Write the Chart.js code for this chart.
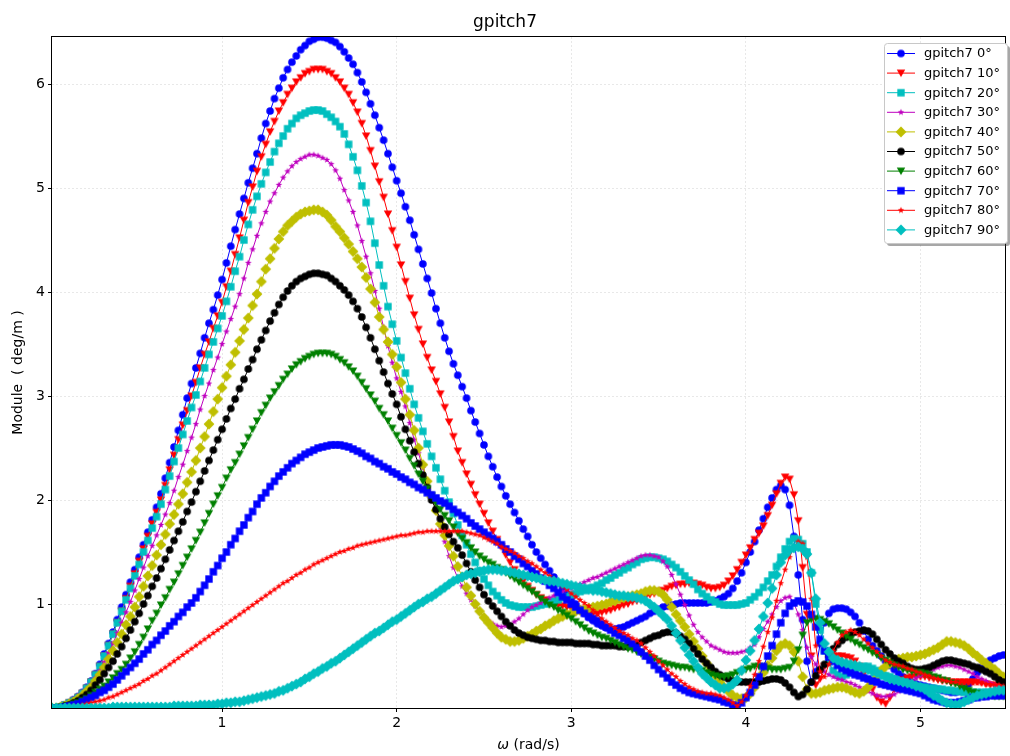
<!DOCTYPE html>
<html>
<head>
<meta charset="utf-8">
<title>gpitch7</title>
<script src="https://cdn.jsdelivr.net/npm/chart.js@4.4.1/dist/chart.umd.min.js"></script>
<style>
  html, body { margin: 0; padding: 0; background: #fff; }
  #wrap { width: 1010px; height: 756px; position: relative; }
</style>
</head>
<body>
<div id="wrap"><canvas id="gpitchChart" width="1010" height="756"></canvas></div>
<script>
// omega (rad/s), one row per 0.5 rad/s
const omega = [
  0.025, 0.050, 0.075, 0.100, 0.125, 0.150, 0.175, 0.200, 0.225, 0.250, 0.275, 0.300, 0.325, 0.350, 0.375, 0.400, 0.425, 0.450, 0.475, 0.500,
  0.525, 0.550, 0.575, 0.600, 0.625, 0.650, 0.675, 0.700, 0.725, 0.750, 0.775, 0.800, 0.825, 0.850, 0.875, 0.900, 0.925, 0.950, 0.975, 1.000,
  1.025, 1.050, 1.075, 1.100, 1.125, 1.150, 1.175, 1.200, 1.225, 1.250, 1.275, 1.300, 1.325, 1.350, 1.375, 1.400, 1.425, 1.450, 1.475, 1.500,
  1.525, 1.550, 1.575, 1.600, 1.625, 1.650, 1.675, 1.700, 1.725, 1.750, 1.775, 1.800, 1.825, 1.850, 1.875, 1.900, 1.925, 1.950, 1.975, 2.000,
  2.025, 2.050, 2.075, 2.100, 2.125, 2.150, 2.175, 2.200, 2.225, 2.250, 2.275, 2.300, 2.325, 2.350, 2.375, 2.400, 2.425, 2.450, 2.475, 2.500,
  2.525, 2.550, 2.575, 2.600, 2.625, 2.650, 2.675, 2.700, 2.725, 2.750, 2.775, 2.800, 2.825, 2.850, 2.875, 2.900, 2.925, 2.950, 2.975, 3.000,
  3.025, 3.050, 3.075, 3.100, 3.125, 3.150, 3.175, 3.200, 3.225, 3.250, 3.275, 3.300, 3.325, 3.350, 3.375, 3.400, 3.425, 3.450, 3.475, 3.500,
  3.525, 3.550, 3.575, 3.600, 3.625, 3.650, 3.675, 3.700, 3.725, 3.750, 3.775, 3.800, 3.825, 3.850, 3.875, 3.900, 3.925, 3.950, 3.975, 4.000,
  4.025, 4.050, 4.075, 4.100, 4.125, 4.150, 4.175, 4.200, 4.225, 4.250, 4.275, 4.300, 4.325, 4.350, 4.375, 4.400, 4.425, 4.450, 4.475, 4.500,
  4.525, 4.550, 4.575, 4.600, 4.625, 4.650, 4.675, 4.700, 4.725, 4.750, 4.775, 4.800, 4.825, 4.850, 4.875, 4.900, 4.925, 4.950, 4.975, 5.000,
  5.025, 5.050, 5.075, 5.100, 5.125, 5.150, 5.175, 5.200, 5.225, 5.250, 5.275, 5.300, 5.325, 5.350, 5.375, 5.400, 5.425, 5.450, 5.475, 5.500
];

const gpitch0 = [
  0.00, 0.00, 0.01, 0.03, 0.05, 0.08, 0.11, 0.15, 0.20, 0.26, 0.33, 0.42, 0.52, 0.62, 0.73, 0.85, 0.97, 1.09, 1.21, 1.33,
  1.45, 1.57, 1.69, 1.81, 1.93, 2.06, 2.21, 2.36, 2.51, 2.67, 2.82, 2.98, 3.12, 3.27, 3.41, 3.56, 3.70, 3.83, 3.97, 4.12,
  4.28, 4.44, 4.60, 4.75, 4.90, 5.05, 5.19, 5.33, 5.48, 5.62, 5.74, 5.86, 5.96, 6.06, 6.14, 6.21, 6.27, 6.33, 6.37, 6.41,
  6.43, 6.45, 6.45, 6.44, 6.42, 6.40, 6.36, 6.31, 6.25, 6.19, 6.11, 6.02, 5.92, 5.81, 5.70, 5.58, 5.46, 5.33, 5.20, 5.07,
  4.95, 4.82, 4.69, 4.55, 4.41, 4.27, 4.13, 3.99, 3.84, 3.70, 3.56, 3.43, 3.31, 3.20, 3.09, 2.98, 2.86, 2.75, 2.64, 2.53,
  2.42, 2.32, 2.22, 2.13, 2.04, 1.96, 1.88, 1.80, 1.72, 1.65, 1.57, 1.50, 1.44, 1.38, 1.32, 1.26, 1.20, 1.15, 1.10, 1.05,
  1.00, 0.95, 0.91, 0.87, 0.84, 0.81, 0.79, 0.77, 0.76, 0.76, 0.77, 0.78, 0.80, 0.82, 0.84, 0.86, 0.88, 0.91, 0.93, 0.95,
  0.97, 0.98, 0.99, 1.00, 1.01, 1.01, 1.01, 1.01, 1.01, 1.01, 1.01, 1.02, 1.03, 1.05, 1.07, 1.10, 1.15, 1.22, 1.30, 1.40,
  1.50, 1.60, 1.71, 1.82, 1.93, 2.02, 2.10, 2.14, 2.10, 1.95, 1.65, 1.28, 0.85, 0.45, 0.25, 0.35, 0.62, 0.82, 0.91, 0.95,
  0.96, 0.96, 0.95, 0.92, 0.88, 0.82, 0.74, 0.66, 0.60, 0.55, 0.50, 0.45, 0.41, 0.37, 0.33, 0.30, 0.27, 0.25, 0.23, 0.22,
  0.21, 0.20, 0.19, 0.18, 0.17, 0.16, 0.15, 0.15, 0.16, 0.19, 0.23, 0.28, 0.34, 0.39, 0.43, 0.46, 0.48, 0.50, 0.51, 0.51
];

const gpitch10 = [
  0.00, 0.00, 0.01, 0.03, 0.05, 0.07, 0.10, 0.14, 0.19, 0.25, 0.32, 0.40, 0.50, 0.60, 0.71, 0.82, 0.93, 1.05, 1.17, 1.29,
  1.41, 1.53, 1.65, 1.77, 1.88, 2.00, 2.14, 2.29, 2.43, 2.58, 2.72, 2.86, 3.00, 3.13, 3.27, 3.40, 3.52, 3.65, 3.77, 3.90,
  4.05, 4.20, 4.36, 4.52, 4.69, 4.86, 5.01, 5.16, 5.30, 5.42, 5.54, 5.64, 5.74, 5.82, 5.90, 5.96, 6.02, 6.06, 6.10, 6.12,
  6.14, 6.14, 6.14, 6.12, 6.10, 6.06, 6.02, 5.96, 5.90, 5.82, 5.73, 5.62, 5.50, 5.36, 5.21, 5.06, 4.91, 4.75, 4.59, 4.43,
  4.26, 4.10, 3.94, 3.78, 3.64, 3.50, 3.37, 3.25, 3.14, 3.02, 2.89, 2.75, 2.61, 2.47, 2.36, 2.25, 2.15, 2.05, 1.96, 1.87,
  1.78, 1.70, 1.62, 1.55, 1.47, 1.40, 1.33, 1.27, 1.22, 1.17, 1.13, 1.09, 1.06, 1.04, 1.02, 1.01, 0.99, 0.98, 0.97, 0.96,
  0.95, 0.94, 0.93, 0.92, 0.91, 0.91, 0.92, 0.93, 0.94, 0.96, 0.97, 0.99, 1.00, 1.02, 1.03, 1.05, 1.07, 1.09, 1.10, 1.12,
  1.13, 1.15, 1.17, 1.18, 1.19, 1.19, 1.20, 1.20, 1.19, 1.18, 1.16, 1.15, 1.15, 1.16, 1.18, 1.22, 1.27, 1.33, 1.40, 1.47,
  1.54, 1.62, 1.68, 1.75, 1.85, 1.95, 2.06, 2.16, 2.22, 2.20, 2.05, 1.80, 1.35, 0.90, 0.50, 0.22, 0.28, 0.40, 0.46, 0.50,
  0.50, 0.50, 0.49, 0.48, 0.45, 0.40, 0.33, 0.26, 0.18, 0.10, 0.06, 0.04, 0.10, 0.18, 0.23, 0.27, 0.29, 0.30, 0.30, 0.30,
  0.30, 0.29, 0.28, 0.27, 0.26, 0.26, 0.25, 0.25, 0.25, 0.25, 0.25, 0.25, 0.25, 0.24, 0.23, 0.22, 0.22, 0.21, 0.21, 0.20
];

const gpitch20 = [
  0.00, 0.00, 0.01, 0.03, 0.05, 0.07, 0.10, 0.14, 0.19, 0.25, 0.32, 0.40, 0.50, 0.60, 0.71, 0.82, 0.93, 1.04, 1.15, 1.27,
  1.38, 1.50, 1.61, 1.73, 1.84, 1.96, 2.10, 2.23, 2.37, 2.50, 2.63, 2.76, 2.89, 3.01, 3.14, 3.27, 3.40, 3.52, 3.65, 3.77,
  3.91, 4.05, 4.20, 4.34, 4.50, 4.65, 4.79, 4.92, 5.04, 5.15, 5.25, 5.35, 5.43, 5.50, 5.57, 5.62, 5.67, 5.70, 5.72, 5.74,
  5.75, 5.75, 5.74, 5.71, 5.68, 5.64, 5.59, 5.52, 5.42, 5.30, 5.17, 5.02, 4.86, 4.68, 4.47, 4.26, 4.06, 3.86, 3.69, 3.53,
  3.37, 3.22, 3.07, 2.92, 2.79, 2.66, 2.54, 2.42, 2.31, 2.20, 2.09, 1.98, 1.87, 1.76, 1.66, 1.57, 1.48, 1.40, 1.32, 1.24,
  1.18, 1.12, 1.08, 1.04, 1.01, 0.99, 0.98, 0.97, 0.97, 0.97, 0.97, 0.98, 0.99, 1.00, 1.01, 1.03, 1.04, 1.06, 1.07, 1.09,
  1.10, 1.12, 1.13, 1.15, 1.16, 1.18, 1.20, 1.23, 1.25, 1.28, 1.30, 1.33, 1.35, 1.38, 1.40, 1.43, 1.44, 1.45, 1.45, 1.44,
  1.43, 1.41, 1.38, 1.35, 1.31, 1.27, 1.23, 1.19, 1.14, 1.10, 1.07, 1.04, 1.02, 1.00, 0.99, 0.99, 0.99, 0.99, 1.00, 1.01,
  1.04, 1.07, 1.11, 1.16, 1.22, 1.28, 1.36, 1.45, 1.53, 1.60, 1.63, 1.62, 1.58, 1.50, 1.30, 1.00, 0.75, 0.55, 0.44, 0.36,
  0.32, 0.30, 0.32, 0.34, 0.37, 0.39, 0.40, 0.40, 0.38, 0.36, 0.33, 0.31, 0.30, 0.28, 0.26, 0.25, 0.23, 0.22, 0.21, 0.20,
  0.20, 0.19, 0.19, 0.18, 0.18, 0.17, 0.17, 0.16, 0.16, 0.15, 0.15, 0.15, 0.15, 0.15, 0.15, 0.15, 0.15, 0.15, 0.15, 0.15
];

const gpitch30 = [
  0.00, 0.00, 0.01, 0.03, 0.05, 0.07, 0.10, 0.13, 0.18, 0.23, 0.29, 0.36, 0.44, 0.53, 0.62, 0.72, 0.82, 0.92, 1.02, 1.13,
  1.24, 1.35, 1.46, 1.56, 1.66, 1.76, 1.86, 1.97, 2.09, 2.22, 2.34, 2.47, 2.60, 2.73, 2.87, 3.00, 3.12, 3.25, 3.37, 3.50,
  3.62, 3.74, 3.86, 3.98, 4.13, 4.28, 4.41, 4.54, 4.66, 4.77, 4.87, 4.95, 5.03, 5.10, 5.16, 5.21, 5.25, 5.28, 5.30, 5.32,
  5.32, 5.31, 5.29, 5.27, 5.23, 5.17, 5.09, 4.98, 4.88, 4.77, 4.64, 4.49, 4.34, 4.18, 4.01, 3.84, 3.66, 3.48, 3.32, 3.17,
  3.04, 2.90, 2.74, 2.58, 2.45, 2.31, 2.18, 2.05, 1.90, 1.74, 1.60, 1.46, 1.35, 1.25, 1.17, 1.10, 1.04, 0.98, 0.93, 0.88,
  0.84, 0.81, 0.79, 0.78, 0.79, 0.80, 0.83, 0.86, 0.90, 0.94, 0.97, 0.99, 1.01, 1.03, 1.06, 1.08, 1.10, 1.12, 1.14, 1.15,
  1.17, 1.19, 1.21, 1.23, 1.25, 1.26, 1.28, 1.30, 1.32, 1.34, 1.36, 1.38, 1.40, 1.42, 1.44, 1.46, 1.47, 1.47, 1.46, 1.45,
  1.41, 1.36, 1.28, 1.19, 1.09, 0.99, 0.89, 0.80, 0.73, 0.68, 0.64, 0.60, 0.58, 0.56, 0.54, 0.53, 0.53, 0.53, 0.54, 0.55,
  0.58, 0.61, 0.68, 0.76, 0.83, 0.90, 0.97, 1.03, 1.06, 1.07, 1.01, 0.90, 0.75, 0.58, 0.49, 0.42, 0.38, 0.35, 0.32, 0.30,
  0.28, 0.27, 0.25, 0.24, 0.22, 0.20, 0.18, 0.16, 0.14, 0.12, 0.11, 0.11, 0.12, 0.13, 0.16, 0.19, 0.22, 0.26, 0.29, 0.31,
  0.33, 0.35, 0.37, 0.39, 0.40, 0.41, 0.41, 0.40, 0.39, 0.37, 0.35, 0.33, 0.30, 0.28, 0.26, 0.24, 0.22, 0.21, 0.20, 0.20
];

const gpitch40 = [
  0.00, 0.00, 0.01, 0.02, 0.04, 0.06, 0.09, 0.12, 0.16, 0.20, 0.26, 0.32, 0.39, 0.47, 0.55, 0.63, 0.71, 0.80, 0.88, 0.97,
  1.07, 1.17, 1.27, 1.37, 1.47, 1.57, 1.67, 1.77, 1.86, 1.96, 2.06, 2.17, 2.27, 2.38, 2.50, 2.61, 2.73, 2.85, 2.97, 3.08,
  3.19, 3.30, 3.42, 3.53, 3.64, 3.75, 3.87, 3.98, 4.10, 4.22, 4.32, 4.42, 4.51, 4.58, 4.64, 4.68, 4.72, 4.75, 4.77, 4.78,
  4.79, 4.79, 4.77, 4.74, 4.69, 4.63, 4.58, 4.52, 4.46, 4.39, 4.32, 4.24, 4.14, 4.03, 3.90, 3.76, 3.64, 3.52, 3.40, 3.28,
  3.13, 2.97, 2.82, 2.67, 2.50, 2.34, 2.18, 2.03, 1.90, 1.77, 1.66, 1.56, 1.46, 1.36, 1.26, 1.16, 1.08, 1.00, 0.93, 0.87,
  0.82, 0.77, 0.72, 0.68, 0.66, 0.64, 0.64, 0.65, 0.67, 0.69, 0.71, 0.74, 0.76, 0.79, 0.81, 0.84, 0.86, 0.88, 0.90, 0.91,
  0.93, 0.94, 0.95, 0.96, 0.97, 0.98, 0.99, 1.00, 1.02, 1.03, 1.05, 1.06, 1.07, 1.08, 1.09, 1.10, 1.12, 1.13, 1.13, 1.12,
  1.09, 1.04, 0.97, 0.90, 0.84, 0.78, 0.71, 0.64, 0.57, 0.50, 0.43, 0.37, 0.31, 0.25, 0.20, 0.16, 0.12, 0.10, 0.09, 0.10,
  0.14, 0.20, 0.27, 0.34, 0.41, 0.48, 0.55, 0.60, 0.62, 0.60, 0.54, 0.45, 0.30, 0.18, 0.14, 0.14, 0.15, 0.17, 0.18, 0.19,
  0.20, 0.20, 0.19, 0.17, 0.15, 0.14, 0.16, 0.20, 0.25, 0.31, 0.36, 0.40, 0.43, 0.46, 0.47, 0.48, 0.49, 0.49, 0.50, 0.51,
  0.52, 0.54, 0.56, 0.58, 0.61, 0.64, 0.64, 0.63, 0.62, 0.60, 0.57, 0.53, 0.50, 0.46, 0.43, 0.40, 0.37, 0.33, 0.30, 0.28
];

const gpitch50 = [
  0.00, 0.00, 0.01, 0.02, 0.03, 0.05, 0.07, 0.10, 0.13, 0.17, 0.22, 0.27, 0.33, 0.39, 0.45, 0.52, 0.59, 0.67, 0.75, 0.83,
  0.91, 1.00, 1.08, 1.17, 1.25, 1.34, 1.43, 1.52, 1.61, 1.70, 1.79, 1.89, 1.98, 2.08, 2.18, 2.28, 2.38, 2.48, 2.58, 2.68,
  2.78, 2.88, 2.97, 3.07, 3.16, 3.26, 3.35, 3.45, 3.54, 3.63, 3.72, 3.80, 3.88, 3.95, 4.01, 4.06, 4.10, 4.13, 4.15, 4.17,
  4.18, 4.18, 4.17, 4.16, 4.13, 4.10, 4.06, 4.02, 3.97, 3.91, 3.84, 3.76, 3.66, 3.56, 3.45, 3.34, 3.23, 3.12, 3.02, 2.92,
  2.80, 2.68, 2.57, 2.46, 2.35, 2.24, 2.12, 2.00, 1.91, 1.82, 1.74, 1.67, 1.60, 1.54, 1.47, 1.39, 1.31, 1.23, 1.16, 1.09,
  1.03, 0.98, 0.93, 0.88, 0.83, 0.79, 0.75, 0.72, 0.70, 0.68, 0.67, 0.66, 0.65, 0.65, 0.64, 0.64, 0.63, 0.63, 0.63, 0.63,
  0.62, 0.62, 0.62, 0.62, 0.61, 0.61, 0.60, 0.60, 0.60, 0.60, 0.59, 0.59, 0.59, 0.60, 0.61, 0.63, 0.65, 0.67, 0.69, 0.70,
  0.72, 0.73, 0.73, 0.72, 0.69, 0.66, 0.62, 0.57, 0.52, 0.47, 0.43, 0.39, 0.35, 0.32, 0.30, 0.28, 0.26, 0.25, 0.25, 0.25,
  0.25, 0.25, 0.25, 0.26, 0.27, 0.28, 0.28, 0.27, 0.24, 0.20, 0.15, 0.11, 0.13, 0.18, 0.25, 0.31, 0.37, 0.42, 0.50, 0.57,
  0.61, 0.65, 0.68, 0.71, 0.73, 0.74, 0.75, 0.74, 0.71, 0.66, 0.61, 0.56, 0.52, 0.48, 0.45, 0.43, 0.40, 0.38, 0.37, 0.37,
  0.38, 0.39, 0.41, 0.43, 0.45, 0.46, 0.46, 0.45, 0.44, 0.43, 0.42, 0.40, 0.39, 0.37, 0.35, 0.33, 0.30, 0.27, 0.25, 0.22
];

const gpitch60 = [
  0.00, 0.00, 0.00, 0.01, 0.02, 0.04, 0.05, 0.07, 0.09, 0.12, 0.15, 0.18, 0.21, 0.25, 0.29, 0.33, 0.37, 0.42, 0.48, 0.54,
  0.61, 0.68, 0.76, 0.84, 0.91, 0.99, 1.06, 1.14, 1.21, 1.29, 1.37, 1.45, 1.53, 1.61, 1.69, 1.78, 1.87, 1.96, 2.04, 2.12,
  2.21, 2.29, 2.36, 2.44, 2.52, 2.60, 2.68, 2.76, 2.84, 2.91, 2.98, 3.04, 3.10, 3.16, 3.21, 3.26, 3.30, 3.33, 3.36, 3.38,
  3.40, 3.41, 3.41, 3.41, 3.40, 3.38, 3.35, 3.32, 3.28, 3.24, 3.19, 3.13, 3.07, 3.01, 2.95, 2.88, 2.82, 2.76, 2.69, 2.62,
  2.55, 2.48, 2.40, 2.33, 2.25, 2.18, 2.11, 2.04, 1.97, 1.91, 1.85, 1.80, 1.74, 1.68, 1.63, 1.59, 1.54, 1.50, 1.46, 1.43,
  1.40, 1.38, 1.35, 1.33, 1.30, 1.27, 1.24, 1.21, 1.18, 1.15, 1.12, 1.09, 1.05, 1.02, 0.99, 0.97, 0.94, 0.92, 0.89, 0.86,
  0.83, 0.80, 0.77, 0.74, 0.72, 0.70, 0.68, 0.67, 0.65, 0.63, 0.61, 0.59, 0.57, 0.56, 0.54, 0.52, 0.50, 0.49, 0.47, 0.45,
  0.43, 0.42, 0.41, 0.40, 0.39, 0.39, 0.38, 0.37, 0.37, 0.36, 0.34, 0.32, 0.31, 0.30, 0.30, 0.31, 0.32, 0.34, 0.35, 0.37,
  0.38, 0.40, 0.40, 0.39, 0.38, 0.37, 0.37, 0.37, 0.38, 0.39, 0.45, 0.56, 0.70, 0.82, 0.85, 0.86, 0.85, 0.83, 0.81, 0.78,
  0.75, 0.72, 0.69, 0.66, 0.63, 0.61, 0.58, 0.56, 0.53, 0.51, 0.48, 0.46, 0.43, 0.41, 0.39, 0.37, 0.36, 0.35, 0.34, 0.34,
  0.33, 0.32, 0.30, 0.29, 0.27, 0.26, 0.24, 0.23, 0.21, 0.19, 0.17, 0.15, 0.14, 0.13, 0.12, 0.12, 0.11, 0.11, 0.11, 0.11
];

const gpitch70 = [
  0.00, 0.00, 0.00, 0.01, 0.02, 0.03, 0.04, 0.06, 0.08, 0.10, 0.12, 0.15, 0.17, 0.20, 0.23, 0.27, 0.31, 0.35, 0.39, 0.43,
  0.47, 0.52, 0.56, 0.61, 0.65, 0.70, 0.74, 0.79, 0.83, 0.88, 0.92, 0.97, 1.01, 1.06, 1.12, 1.18, 1.24, 1.31, 1.37, 1.44,
  1.50, 1.57, 1.63, 1.70, 1.76, 1.83, 1.89, 1.96, 2.02, 2.07, 2.13, 2.18, 2.23, 2.27, 2.31, 2.35, 2.38, 2.41, 2.44, 2.46,
  2.48, 2.50, 2.51, 2.52, 2.53, 2.53, 2.53, 2.52, 2.51, 2.49, 2.47, 2.45, 2.42, 2.40, 2.37, 2.35, 2.32, 2.30, 2.27, 2.25,
  2.22, 2.20, 2.17, 2.15, 2.12, 2.10, 2.07, 2.05, 2.02, 1.99, 1.97, 1.94, 1.91, 1.88, 1.85, 1.82, 1.78, 1.75, 1.72, 1.69,
  1.66, 1.63, 1.60, 1.57, 1.53, 1.50, 1.46, 1.43, 1.39, 1.36, 1.32, 1.29, 1.25, 1.22, 1.18, 1.15, 1.11, 1.07, 1.04, 1.00,
  0.97, 0.94, 0.91, 0.88, 0.86, 0.84, 0.81, 0.78, 0.75, 0.72, 0.70, 0.67, 0.65, 0.62, 0.58, 0.54, 0.50, 0.46, 0.41, 0.37,
  0.33, 0.29, 0.25, 0.22, 0.19, 0.17, 0.15, 0.14, 0.13, 0.12, 0.11, 0.10, 0.09, 0.08, 0.06, 0.05, 0.03, 0.02, 0.05, 0.10,
  0.15, 0.22, 0.30, 0.40, 0.50, 0.60, 0.71, 0.82, 0.91, 0.98, 1.01, 1.03, 1.02, 0.98, 0.90, 0.78, 0.66, 0.55, 0.49, 0.45,
  0.41, 0.38, 0.36, 0.34, 0.32, 0.31, 0.29, 0.28, 0.26, 0.25, 0.23, 0.22, 0.21, 0.20, 0.19, 0.18, 0.17, 0.16, 0.15, 0.14,
  0.12, 0.10, 0.08, 0.07, 0.06, 0.05, 0.05, 0.05, 0.06, 0.07, 0.08, 0.10, 0.10, 0.11, 0.11, 0.12, 0.12, 0.12, 0.12, 0.12
];

const gpitch80 = [
  0.00, 0.00, 0.00, 0.01, 0.01, 0.02, 0.02, 0.03, 0.04, 0.05, 0.06, 0.07, 0.08, 0.10, 0.11, 0.13, 0.15, 0.17, 0.19, 0.21,
  0.23, 0.26, 0.28, 0.31, 0.33, 0.36, 0.39, 0.42, 0.45, 0.48, 0.51, 0.54, 0.57, 0.60, 0.63, 0.66, 0.69, 0.72, 0.75, 0.78,
  0.81, 0.84, 0.87, 0.90, 0.93, 0.96, 0.99, 1.02, 1.05, 1.08, 1.11, 1.14, 1.17, 1.20, 1.22, 1.25, 1.28, 1.30, 1.33, 1.35,
  1.38, 1.40, 1.42, 1.44, 1.46, 1.48, 1.50, 1.51, 1.53, 1.54, 1.56, 1.57, 1.58, 1.59, 1.60, 1.61, 1.62, 1.63, 1.64, 1.65,
  1.66, 1.66, 1.67, 1.68, 1.69, 1.69, 1.70, 1.70, 1.70, 1.70, 1.70, 1.70, 1.70, 1.70, 1.70, 1.69, 1.68, 1.67, 1.66, 1.64,
  1.62, 1.60, 1.58, 1.55, 1.53, 1.51, 1.49, 1.46, 1.44, 1.41, 1.39, 1.36, 1.33, 1.30, 1.27, 1.24, 1.21, 1.17, 1.14, 1.10,
  1.07, 1.04, 1.01, 0.98, 0.94, 0.90, 0.86, 0.83, 0.80, 0.77, 0.74, 0.72, 0.70, 0.67, 0.65, 0.62, 0.58, 0.54, 0.50, 0.45,
  0.41, 0.37, 0.33, 0.30, 0.26, 0.23, 0.20, 0.18, 0.16, 0.15, 0.14, 0.14, 0.13, 0.12, 0.10, 0.08, 0.05, 0.02, 0.06, 0.12,
  0.21, 0.32, 0.45, 0.59, 0.73, 0.87, 1.03, 1.20, 1.33, 1.45, 1.55, 1.60, 1.58, 1.45, 1.05, 0.60, 0.35, 0.30, 0.42, 0.55,
  0.63, 0.70, 0.73, 0.75, 0.73, 0.70, 0.66, 0.62, 0.58, 0.54, 0.50, 0.46, 0.44, 0.42, 0.41, 0.40, 0.38, 0.37, 0.35, 0.34,
  0.32, 0.31, 0.29, 0.28, 0.27, 0.26, 0.25, 0.25, 0.24, 0.24, 0.24, 0.24, 0.24, 0.24, 0.23, 0.23, 0.22, 0.22, 0.21, 0.21
];

const gpitch90 = [
  0.00, 0.00, 0.00, 0.00, 0.00, 0.00, 0.00, 0.00, 0.00, 0.00, 0.00, 0.00, 0.00, 0.00, 0.01, 0.01, 0.01, 0.01, 0.01, 0.01,
  0.01, 0.01, 0.01, 0.01, 0.01, 0.01, 0.01, 0.01, 0.02, 0.02, 0.02, 0.02, 0.02, 0.02, 0.03, 0.03, 0.03, 0.03, 0.04, 0.04,
  0.05, 0.05, 0.06, 0.06, 0.07, 0.08, 0.09, 0.10, 0.11, 0.12, 0.13, 0.14, 0.16, 0.17, 0.19, 0.21, 0.23, 0.25, 0.28, 0.30,
  0.33, 0.35, 0.38, 0.40, 0.43, 0.45, 0.48, 0.51, 0.54, 0.57, 0.60, 0.63, 0.66, 0.69, 0.72, 0.74, 0.77, 0.80, 0.83, 0.85,
  0.88, 0.91, 0.94, 0.97, 1.00, 1.02, 1.05, 1.07, 1.10, 1.13, 1.16, 1.19, 1.22, 1.24, 1.26, 1.28, 1.29, 1.30, 1.31, 1.32,
  1.33, 1.33, 1.33, 1.32, 1.32, 1.31, 1.30, 1.29, 1.28, 1.27, 1.26, 1.25, 1.24, 1.23, 1.22, 1.22, 1.21, 1.20, 1.19, 1.18,
  1.17, 1.16, 1.15, 1.14, 1.13, 1.13, 1.12, 1.11, 1.10, 1.09, 1.08, 1.08, 1.07, 1.07, 1.06, 1.05, 1.03, 1.00, 0.97, 0.93,
  0.89, 0.85, 0.79, 0.72, 0.65, 0.58, 0.51, 0.45, 0.39, 0.33, 0.29, 0.25, 0.22, 0.19, 0.19, 0.20, 0.23, 0.27, 0.36, 0.46,
  0.55, 0.65, 0.76, 0.88, 1.01, 1.15, 1.28, 1.40, 1.47, 1.52, 1.54, 1.55, 1.53, 1.48, 1.30, 1.05, 0.82, 0.62, 0.54, 0.48,
  0.46, 0.44, 0.43, 0.42, 0.41, 0.40, 0.38, 0.37, 0.35, 0.34, 0.32, 0.30, 0.28, 0.27, 0.26, 0.25, 0.24, 0.23, 0.21, 0.20,
  0.18, 0.15, 0.12, 0.10, 0.07, 0.05, 0.04, 0.03, 0.04, 0.06, 0.08, 0.10, 0.12, 0.13, 0.14, 0.15, 0.16, 0.17, 0.17, 0.17
];

const headings = ["0°", "10°", "20°", "30°", "40°", "50°", "60°", "70°", "80°", "90°"];
const seriesValues = [gpitch0, gpitch10, gpitch20, gpitch30, gpitch40,
                      gpitch50, gpitch60, gpitch70, gpitch80, gpitch90];

// matplotlib-like styles: b-o, r-v, c-s, m-*, y-D, k-o, g-v, b-s, r-*, c-D
const colours = ["#0000ff", "#ff0000", "#00bfbf", "#bf00bf", "#bfbf00",
                 "#000000", "#008000", "#0000ff", "#ff0000", "#00bfbf"];
const shapes = ["circle", "tri", "square", "star", "diamond",
                "circle", "tri", "square", "star", "diamond"];

const FONT = "'DejaVu Sans', sans-serif";

function markerCanvas(shape, colour) {
  const c = document.createElement("canvas");
  c.width = 14;
  c.height = 14;
  const g = c.getContext("2d");
  g.fillStyle = colour;
  g.translate(7, 7);
  g.beginPath();
  if (shape === "circle") {
    g.arc(0, 0, 3.8, 0, Math.PI * 2);
  } else if (shape === "tri") {
    g.moveTo(-4.2, -3.4);
    g.lineTo(4.2, -3.4);
    g.lineTo(0, 3.9);
    g.closePath();
  } else if (shape === "square") {
    g.rect(-3.7, -3.7, 7.4, 7.4);
  } else if (shape === "diamond") {
    g.moveTo(0, -5.4);
    g.lineTo(5.4, 0);
    g.lineTo(0, 5.4);
    g.lineTo(-5.4, 0);
    g.closePath();
  } else {
    for (let k = 0; k < 10; k += 1) {
      const r = k % 2 ? 1.4 : 3.5;
      const t = -Math.PI / 2 + k * Math.PI / 5;
      g.lineTo(r * Math.cos(t), r * Math.sin(t));
    }
    g.closePath();
  }
  g.fill();
  return c;
}

const markers = shapes.map((s, i) => markerCanvas(s, colours[i]));

const framePlugin = {
  id: "frame",
  afterDatasetsDraw(chart) {
    const { ctx, chartArea: a } = chart;
    ctx.save();
    ctx.strokeStyle = "#000";
    ctx.lineWidth = 1;
    ctx.strokeRect(a.left - 0.5, a.top - 0.5, a.right - a.left + 1, a.bottom - a.top + 1);
    ctx.restore();
  }
};

const xLabelPlugin = {
  id: "xLabel",
  afterDraw(chart) {
    const { ctx, chartArea: a } = chart;
    const italic = "italic 14px " + FONT;
    const plain = "14px " + FONT;
    ctx.save();
    ctx.font = italic;
    const w1 = ctx.measureText("ω").width;
    ctx.font = plain;
    const w2 = ctx.measureText(" (rad/s)").width;
    const x = (a.left + a.right) / 2 - (w1 + w2) / 2;
    ctx.fillStyle = "#000";
    ctx.textBaseline = "middle";
    ctx.textAlign = "left";
    ctx.font = italic;
    ctx.fillText("ω", x, 745);
    ctx.font = plain;
    ctx.fillText(" (rad/s)", x + w1, 745);
    ctx.restore();
  }
};

const legendPlugin = {
  id: "boxLegend",
  afterDraw(chart) {
    const ctx = chart.ctx;
    const bx = 884, by = 43, bw = 123, bh = 200;
    ctx.save();
    ctx.fillStyle = "rgba(60,60,60,0.45)";
    ctx.beginPath();
    ctx.roundRect(bx + 3, by + 3, bw, bh, 3);
    ctx.fill();
    ctx.fillStyle = "#ffffff";
    ctx.strokeStyle = "#c8c8c8";
    ctx.lineWidth = 1;
    ctx.beginPath();
    ctx.roundRect(bx + 0.5, by + 0.5, bw, bh, 3);
    ctx.fill();
    ctx.stroke();
    ctx.font = "13px " + FONT;
    ctx.textBaseline = "middle";
    ctx.textAlign = "left";
    chart.data.datasets.forEach((ds, i) => {
      const y = by + 10.5 + i * 19.6;
      ctx.strokeStyle = colours[i];
      ctx.beginPath();
      ctx.moveTo(887, y);
      ctx.lineTo(915, y);
      ctx.stroke();
      ctx.drawImage(markers[i], 901 - 7, y - 7);
      ctx.fillStyle = "#000";
      ctx.fillText(ds.label, 924, y + 0.5);
    });
    ctx.restore();
  }
};

const datasets = seriesValues.map((values, i) => ({
  label: "gpitch7 " + headings[i],
  data: omega.map((w, k) => ({ x: w, y: values[k] })),
  borderColor: colours[i],
  backgroundColor: colours[i],
  borderWidth: 1,
  pointStyle: markers[i],
  pointRadius: 4,
  pointHoverRadius: 4,
  tension: 0,
  clip: 0,
  order: 9 - i
}));

Chart.defaults.font.family = FONT;
Chart.defaults.color = "#000";

const keepInside = scale => {
  scale.ticks = scale.ticks.filter(t => t.value > 0.01 && t.value <= scale.max);
};

new Chart(document.getElementById("gpitchChart").getContext("2d"), {
  type: "line",
  data: { datasets },
  options: {
    responsive: false,
    devicePixelRatio: 1,
    animation: false,
    events: [],
    layout: { padding: 0 },
    plugins: {
      legend: { display: false },
      tooltip: { enabled: false },
      title: {
        display: true,
        text: "gpitch7",
        color: "#000",
        font: { size: 17, weight: "normal", family: FONT },
        padding: { top: 12, bottom: 4.6 }
      }
    },
    scales: {
      x: {
        type: "linear",
        min: 0.026,
        max: 5.484,
        afterFit: s => { s.height = 48; },
        afterBuildTicks: keepInside,
        ticks: { stepSize: 1, includeBounds: false, maxRotation: 0, padding: 3,
                 font: { size: 14, family: FONT }, color: "#000" },
        grid: { color: "rgba(0,0,0,0.09)", tickColor: "#000", tickLength: 4, lineWidth: 1 },
        border: { display: false, dash: [2, 2] }
      },
      y: {
        min: 0,
        max: 6.452,
        afterFit: s => { s.width = 52; },
        afterBuildTicks: keepInside,
        ticks: { stepSize: 1, includeBounds: false, padding: 3,
                 font: { size: 14, family: FONT }, color: "#000" },
        grid: { color: "rgba(0,0,0,0.09)", tickColor: "#000", tickLength: 4, lineWidth: 1 },
        border: { display: false, dash: [2, 2] },
        title: {
          display: true,
          text: "Module  ( deg/m )",
          color: "#000",
          font: { size: 14, family: FONT },
          padding: { top: 10, bottom: 0 }
        }
      }
    }
  },
  plugins: [framePlugin, xLabelPlugin, legendPlugin]
});
</script>
</body>
</html>
